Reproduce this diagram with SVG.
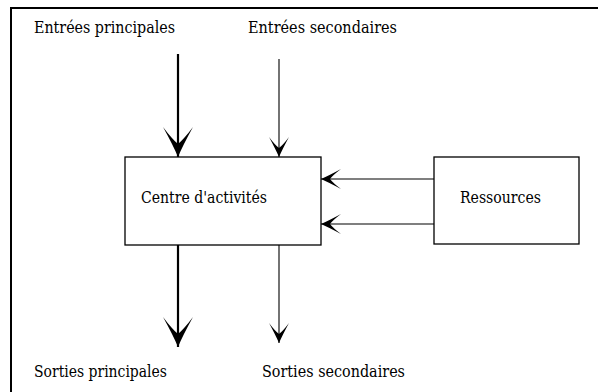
<svg xmlns="http://www.w3.org/2000/svg" width="598" height="392" viewBox="0 0 598 392">
<style>
.t{font-family:'DejaVu Serif',serif;font-size:17px;fill:#000}
.box{fill:#fff;stroke:#000;stroke-width:1.3}
.thick{stroke:#000;stroke-width:2.2;fill:none}
.thin{stroke:#000;stroke-width:1.1;fill:none}
</style>
<defs>
<marker id="big" viewBox="-31 -16 32 32" markerWidth="32" markerHeight="32" refX="0" refY="0" orient="auto" markerUnits="userSpaceOnUse">
<path d="M0,0 Q-12,-5 -30,-15 Q-18,-6 -13,0 Q-18,6 -30,15 Q-12,5 0,0 Z" fill="#000"/>
</marker>
<marker id="small" viewBox="-21 -11 22 22" markerWidth="22" markerHeight="22" refX="0" refY="0" orient="auto" markerUnits="userSpaceOnUse">
<path d="M0,0 Q-8,-3.5 -20,-10 Q-12,-4 -9,0 Q-12,4 -20,10 Q-8,3.5 0,0 Z" fill="#000"/>
</marker>
</defs>
<g id="frame">
<line x1="10" y1="8" x2="598" y2="8" stroke="#000" stroke-width="2"/>
<line x1="11" y1="7" x2="11" y2="392" stroke="#000" stroke-width="2"/>
</g>
<g id="connectors">
<line class="thick" x1="178" y1="54" x2="178" y2="157" marker-end="url(#big)"/>
<line class="thin" x1="279" y1="59" x2="279" y2="157" marker-end="url(#small)"/>
<line class="thick" x1="178" y1="245" x2="178" y2="347" marker-end="url(#big)"/>
<line class="thin" x1="279" y1="245" x2="279" y2="343" marker-end="url(#small)"/>
<line class="thin" x1="434" y1="179" x2="321" y2="179" marker-end="url(#small)"/>
<line class="thin" x1="434" y1="224" x2="321" y2="224" marker-end="url(#small)"/>
</g>
<g id="centre">
<rect class="box" x="125" y="157" width="196" height="88"/>
<text class="t" x="141" y="203" textLength="126" lengthAdjust="spacingAndGlyphs">Centre d'activités</text>
</g>
<g id="ressources">
<rect class="box" x="434" y="157" width="145" height="87"/>
<text class="t" x="460" y="203" textLength="81" lengthAdjust="spacingAndGlyphs">Ressources</text>
</g>
<g id="labels">
<text class="t" x="34" y="32.5" textLength="141" lengthAdjust="spacingAndGlyphs">Entrées principales</text>
<text class="t" x="248" y="32.5" textLength="149" lengthAdjust="spacingAndGlyphs">Entrées secondaires</text>
<text class="t" x="34" y="377" textLength="133" lengthAdjust="spacingAndGlyphs">Sorties principales</text>
<text class="t" x="262" y="377" textLength="143" lengthAdjust="spacingAndGlyphs">Sorties secondaires</text>
</g>
</svg>
